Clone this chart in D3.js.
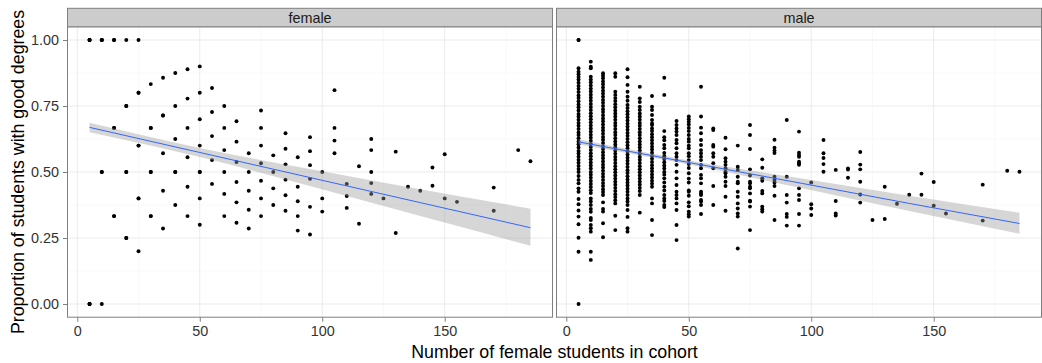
<!DOCTYPE html>
<meta charset="utf-8">
<style>
body { margin: 0; background: #fff; }
svg text { font-family: "Liberation Sans", Arial, sans-serif; }
</style>
<body>
<svg width="1042" height="363"></svg>
<script src="https://d3js.org/d3.v7.min.js"></script>
<script>
// female panel: cohort size columns and the proportions seen in each
// (repeated values = several cohorts on the same spot)
var femaleCols = [5, 10, 15, 20, 25, 30, 35, 40, 45, 50, 55, 60, 65, 70, 75, 80, 85, 90, 95,
                  100, 105, 110, 115, 120, 125, 130, 135, 140, 145, 150, 155, 170, 180, 185];
var femaleProps = [
  [1, 1, 1, 0, 0, 0],
  [1, 1, 1, 0.5, 0.5, 0],
  [1, 1, 0.667, 0.667, 0.333, 0.333],
  [1, 0.75, 0.75, 0.5, 0.5, 0.25, 0.25],
  [1, 0.8, 0.8, 0.6, 0.6, 0.4, 0.4, 0.2],
  [0.833, 0.667, 0.667, 0.5, 0.5, 0.333, 0.333],
  [0.857, 0.714, 0.714, 0.571, 0.429, 0.286],
  [0.875, 0.75, 0.625, 0.5, 0.5, 0.375],
  [0.889, 0.778, 0.667, 0.556, 0.444, 0.333],
  [0.9, 0.8, 0.7, 0.6, 0.5, 0.5, 0.4, 0.3],
  [0.818, 0.727, 0.636, 0.545, 0.455],
  [0.75, 0.667, 0.583, 0.5, 0.417, 0.333],
  [0.692, 0.615, 0.538, 0.462, 0.385, 0.308],
  [0.571, 0.5, 0.429, 0.357, 0.286],
  [0.733, 0.667, 0.6, 0.533, 0.467, 0.4, 0.333],
  [0.563, 0.5, 0.438, 0.375],
  [0.647, 0.588, 0.529, 0.471, 0.412, 0.353],
  [0.556, 0.444, 0.389, 0.333, 0.278],
  [0.632, 0.579, 0.526, 0.474, 0.368, 0.263],
  [0.5, 0.4, 0.35],
  [0.81, 0.667, 0.619, 0.571],
  [0.455, 0.409, 0.364],
  [0.522, 0.304],
  [0.625, 0.583, 0.5, 0.458, 0.417],
  [0.4],
  [0.577, 0.269],
  [0.444],
  [0.429],
  [0.517, 0.448],
  [0.567, 0.4],
  [0.387],
  [0.441, 0.353],
  [0.583],
  [0.541]
];

// male panel
var maleCols = [5, 10, 15, 20, 25, 30, 35, 40, 45, 50, 55, 60, 65, 70, 75, 80, 85, 90, 95,
                100, 105, 110, 115, 120, 125, 130, 135, 140, 145, 150, 155, 170, 180, 185];
var maleProps = [
  [1, 1, 0.893, 0.88, 0.87, 0.86, 0.85, 0.838, 0.826, 0.815, 0.803, 0.79, 0.78, 0.768, 0.756, 0.745,
   0.733, 0.72, 0.71, 0.698, 0.686, 0.675, 0.663, 0.65, 0.64, 0.628, 0.616, 0.605, 0.593, 0.58,
   0.57, 0.558, 0.546, 0.535, 0.523, 0.511, 0.5, 0.485, 0.47, 0.457, 0.438, 0.425, 0.398, 0.378,
   0.354, 0.331, 0.302, 0.251, 0.198, 0],
  [0.918, 0.899, 0.893, 0.861, 0.85, 0.84, 0.828, 0.816, 0.805, 0.793, 0.781, 0.77, 0.758, 0.746,
   0.735, 0.723, 0.711, 0.7, 0.688, 0.676, 0.665, 0.653, 0.641, 0.63, 0.618, 0.606, 0.595, 0.583,
   0.571, 0.56, 0.548, 0.536, 0.525, 0.513, 0.5, 0.49, 0.478, 0.466, 0.455, 0.443, 0.431, 0.42,
   0.4, 0.388, 0.375, 0.36, 0.349, 0.326, 0.318, 0.299, 0.287, 0.274, 0.198, 0.167],
  [0.874, 0.865, 0.855, 0.843, 0.832, 0.82, 0.808, 0.797, 0.785, 0.773, 0.762, 0.75, 0.738, 0.727,
   0.715, 0.703, 0.692, 0.68, 0.668, 0.657, 0.645, 0.633, 0.622, 0.61, 0.598, 0.587, 0.575, 0.563,
   0.552, 0.54, 0.528, 0.517, 0.505, 0.493, 0.482, 0.47, 0.458, 0.447, 0.435, 0.424, 0.413, 0.385,
   0.36, 0.35, 0.306, 0.253],
  [0.874, 0.861, 0.804, 0.792, 0.78, 0.769, 0.757, 0.745, 0.733, 0.722, 0.71, 0.698, 0.686, 0.675,
   0.663, 0.651, 0.64, 0.628, 0.616, 0.604, 0.593, 0.581, 0.569, 0.557, 0.546, 0.534, 0.522, 0.51,
   0.499, 0.487, 0.475, 0.463, 0.452, 0.44, 0.428, 0.416, 0.405, 0.393, 0.381, 0.334, 0.28],
  [0.889, 0.859, 0.83, 0.804, 0.785, 0.77, 0.754, 0.742, 0.73, 0.719, 0.707, 0.695, 0.683, 0.672,
   0.66, 0.648, 0.637, 0.625, 0.613, 0.601, 0.59, 0.578, 0.566, 0.554, 0.543, 0.531, 0.519, 0.507,
   0.496, 0.484, 0.472, 0.46, 0.449, 0.437, 0.425, 0.413, 0.4, 0.388, 0.375, 0.356, 0.33, 0.287, 0.274],
  [0.823, 0.779, 0.765, 0.747, 0.735, 0.722, 0.71, 0.698, 0.686, 0.675, 0.663, 0.651, 0.64, 0.628,
   0.616, 0.604, 0.593, 0.581, 0.569, 0.557, 0.546, 0.534, 0.522, 0.51, 0.499, 0.487, 0.475, 0.463,
   0.452, 0.44, 0.428, 0.413, 0.346],
  [0.788, 0.747, 0.735, 0.716, 0.697, 0.684, 0.678, 0.665, 0.655, 0.643, 0.632, 0.62, 0.608, 0.596,
   0.585, 0.573, 0.561, 0.55, 0.538, 0.526, 0.514, 0.503, 0.491, 0.479, 0.467, 0.456, 0.444, 0.4,
   0.381, 0.318, 0.261],
  [0.857, 0.792, 0.655, 0.632, 0.62, 0.602, 0.59, 0.572, 0.56, 0.549, 0.537, 0.525, 0.513, 0.5,
   0.49, 0.476, 0.46, 0.444, 0.43, 0.413, 0.4, 0.39, 0.375, 0.367],
  [0.693, 0.678, 0.665, 0.653, 0.64, 0.621, 0.609, 0.59, 0.571, 0.558, 0.545, 0.527, 0.501, 0.476,
   0.451, 0.425, 0.413, 0.4, 0.381, 0.356, 0.299, 0.242],
  [0.71, 0.7, 0.69, 0.68, 0.667, 0.655, 0.64, 0.625, 0.615, 0.6, 0.59, 0.571, 0.56, 0.545, 0.53,
   0.515, 0.495, 0.475, 0.46, 0.43, 0.425, 0.41, 0.385, 0.37, 0.35, 0.34, 0.331],
  [0.823, 0.71, 0.668, 0.647, 0.621, 0.602, 0.583, 0.571, 0.558, 0.545, 0.527, 0.514, 0.489, 0.476,
   0.457, 0.425, 0.419, 0.413, 0.394, 0.388, 0.375, 0.341],
  [0.665, 0.659, 0.602, 0.596, 0.571, 0.558, 0.533, 0.514, 0.447, 0.375],
  [0.63, 0.586, 0.552, 0.539, 0.527, 0.514, 0.501, 0.495, 0.482, 0.463, 0.447, 0.406, 0.353],
  [0.6, 0.52, 0.508, 0.482, 0.463, 0.457, 0.425, 0.406, 0.381, 0.362, 0.343, 0.331, 0.21],
  [0.678, 0.64, 0.587, 0.51, 0.487, 0.463, 0.457, 0.444, 0.438, 0.419, 0.391, 0.388, 0.369, 0.28],
  [0.548, 0.516, 0.476, 0.467, 0.428, 0.419, 0.369, 0.359, 0.35],
  [0.622, 0.592, 0.581, 0.572, 0.482, 0.47, 0.46, 0.447, 0.41, 0.318],
  [0.697, 0.482, 0.413, 0.384, 0.341, 0.33, 0.297],
  [0.653, 0.573, 0.564, 0.558, 0.539, 0.533, 0.527, 0.438, 0.413, 0.394, 0.341, 0.297],
  [0.46, 0.378, 0.362, 0.337],
  [0.621, 0.571, 0.553, 0.53, 0.501],
  [0.508, 0.39, 0.343, 0.335],
  [0.513, 0.509, 0.478],
  [0.576, 0.528, 0.51, 0.463, 0.415, 0.384],
  [0.318],
  [0.444, 0.322],
  [0.38],
  [0.414],
  [0.494, 0.414],
  [0.462, 0.372],
  [0.343],
  [0.452, 0.316],
  [0.505],
  [0.501]
];

// linear fit and its confidence band
var bandX = [5, 50, 95, 140, 185];
var femaleFit = [0.669, 0.574, 0.479, 0.384, 0.289];
var femaleLo  = [0.651, 0.557, 0.447, 0.333, 0.221];
var femaleHi  = [0.687, 0.591, 0.511, 0.435, 0.361];
var maleFit = [0.614, 0.536, 0.459, 0.381, 0.305];
var maleLo  = [0.604, 0.528, 0.441, 0.352, 0.266];
var maleHi  = [0.624, 0.544, 0.477, 0.410, 0.346];

var xTicks = [0, 50, 100, 150];
var xMinor = [25, 75, 125, 175];
var yTicks = [0, 0.25, 0.5, 0.75, 1];
var yMinor = [0.125, 0.375, 0.625, 0.875];
var facetNames = ["female", "male"];

var svg = d3.select("svg");

var left = 67.5, right = 1041.5, gap = 4;
var stripTop = 8.3, panelTop = 26.8, panelBottom = 317.2;
var panelW = (right - left - gap) / 2;

var y = d3.scaleLinear().domain([-0.05, 1.05]).range([panelBottom, panelTop]);

var facets = [
  {name: facetNames[0], cols: femaleCols, props: femaleProps, fit: femaleFit, lo: femaleLo, hi: femaleHi},
  {name: facetNames[1], cols: maleCols, props: maleProps, fit: maleFit, lo: maleLo, hi: maleHi}
];

facets.forEach(function(f, i) {
  var x0 = left + i * (panelW + gap);
  var x = d3.scaleLinear().domain([-4, 194]).range([x0, x0 + panelW]);
  var g = svg.append("g");

  g.append("rect")
    .attr("x", x0).attr("y", panelTop)
    .attr("width", panelW).attr("height", panelBottom - panelTop)
    .style("fill", "#fff");

  // minor grid
  g.selectAll(".vminor").data(xMinor).enter().append("line")
    .attr("x1", function(d) { return x(d); }).attr("x2", function(d) { return x(d); })
    .attr("y1", panelTop).attr("y2", panelBottom)
    .style("stroke", "#f7f7f7").style("stroke-width", 0.8);
  g.selectAll(".hminor").data(yMinor).enter().append("line")
    .attr("x1", x0).attr("x2", x0 + panelW)
    .attr("y1", function(d) { return y(d); }).attr("y2", function(d) { return y(d); })
    .style("stroke", "#f7f7f7").style("stroke-width", 0.8);
  // major grid
  g.selectAll(".vmajor").data(xTicks).enter().append("line")
    .attr("x1", function(d) { return x(d); }).attr("x2", function(d) { return x(d); })
    .attr("y1", panelTop).attr("y2", panelBottom)
    .style("stroke", "#ebebeb").style("stroke-width", 1);
  g.selectAll(".hmajor").data(yTicks).enter().append("line")
    .attr("x1", x0).attr("x2", x0 + panelW)
    .attr("y1", function(d) { return y(d); }).attr("y2", function(d) { return y(d); })
    .style("stroke", "#ebebeb").style("stroke-width", 1);

  // points
  var pts = [];
  f.cols.forEach(function(c, j) {
    f.props[j].forEach(function(p) { pts.push({x: c, y: p}); });
  });
  g.selectAll("circle").data(pts).enter().append("circle")
    .attr("cx", function(d) { return x(d.x); })
    .attr("cy", function(d) { return y(d.y); })
    .attr("r", 1.95)
    .style("fill", "black");

  // smoother band + line
  var band = bandX.map(function(v, k) { return {x: v, lo: f.lo[k], hi: f.hi[k], fit: f.fit[k]}; });
  g.append("path").datum(band)
    .attr("d", d3.area().curve(d3.curveMonotoneX)
      .x(function(d) { return x(d.x); })
      .y0(function(d) { return y(d.lo); })
      .y1(function(d) { return y(d.hi); }))
    .style("fill", "#999999").style("fill-opacity", 0.4);
  g.append("path").datum(band)
    .attr("d", d3.line()
      .x(function(d) { return x(d.x); })
      .y(function(d) { return y(d.fit); }))
    .style("fill", "none").style("stroke", "#3366ff").style("stroke-width", 1);

  // border
  g.append("rect")
    .attr("x", x0).attr("y", panelTop)
    .attr("width", panelW).attr("height", panelBottom - panelTop)
    .style("fill", "none").style("stroke", "#7f7f7f").style("stroke-width", 1);

  // strip
  g.append("rect")
    .attr("x", x0).attr("y", stripTop)
    .attr("width", panelW).attr("height", panelTop - stripTop)
    .style("fill", "#cccccc").style("stroke", "#7f7f7f").style("stroke-width", 1);
  g.append("text")
    .attr("x", x0 + panelW / 2).attr("y", (stripTop + panelTop) / 2)
    .attr("dy", "0.36em").attr("text-anchor", "middle")
    .style("font-size", "14.4px").style("fill", "#1a1a1a")
    .text(f.name);

  // x axis
  var xAxis = d3.axisBottom(x).tickValues(xTicks).tickSize(4.5).tickPadding(4.5).tickFormat(d3.format("d"));
  var ax = g.append("g").attr("transform", "translate(0," + panelBottom + ")").call(xAxis);
  ax.select(".domain").remove();
  ax.selectAll("line").style("stroke", "#7f7f7f");
  ax.selectAll("text").style("font-size", "14.4px").style("fill", "#333333")
    .style("font-family", "'Liberation Sans', Arial, sans-serif");

  if (i === 0) {
    var yAxis = d3.axisLeft(y).tickValues(yTicks).tickSize(4.5).tickPadding(4).tickFormat(d3.format(".2f"));
    var ay = g.append("g").attr("transform", "translate(" + x0 + ",0)").call(yAxis);
    ay.select(".domain").remove();
    ay.selectAll("line").style("stroke", "#7f7f7f");
    ay.selectAll("text").style("font-size", "14.4px").style("fill", "#333333")
      .style("font-family", "'Liberation Sans', Arial, sans-serif");
  }
});

// axis titles
svg.append("text")
  .attr("x", (left + right) / 2).attr("y", 357.5)
  .attr("text-anchor", "middle")
  .style("font-size", "17.8px").style("fill", "black")
  .text("Number of female students in cohort");

svg.append("text")
  .attr("transform", "translate(24," + (panelTop + panelBottom) / 2 + ") rotate(-90)")
  .attr("text-anchor", "middle")
  .style("font-size", "17.8px").style("fill", "black")
  .text("Proportion of students with good degrees");
</script>
</body>
